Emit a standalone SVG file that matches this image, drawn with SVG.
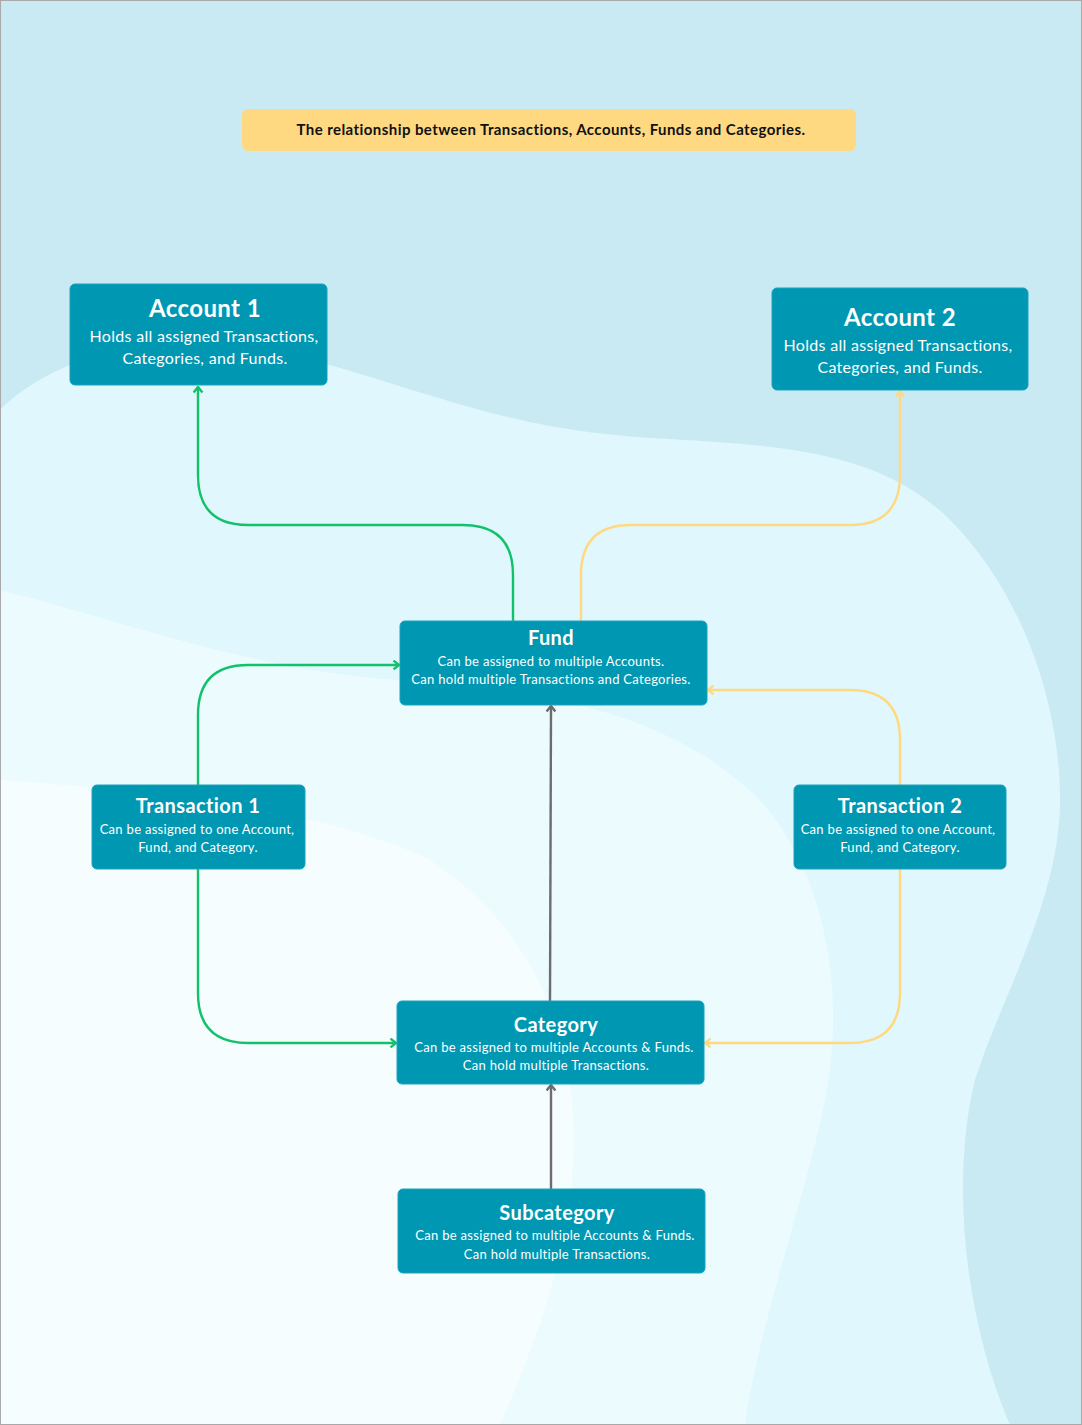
<svg xmlns="http://www.w3.org/2000/svg" width="1082" height="1425" viewBox="0 0 1082 1425">
<defs>
<style>
.node{fill:#0097b2;stroke:#1aa3bb;stroke-width:1}
.t{font-family:Lato,"Liberation Sans",sans-serif;fill:#ffffff;text-anchor:middle}
.h1{font-size:24px;font-weight:bold;letter-spacing:0.4px}
.h2{font-size:20px;font-weight:bold;letter-spacing:0.4px}
.s1{font-size:16px;letter-spacing:0.3px}
.s2{font-size:13px;letter-spacing:0.3px}
.c{fill:none;stroke-width:2.4}
.g{stroke:#12c26a}
.y{stroke:#ffd880}
.k{stroke:#6d6d6d}
</style>
<marker id="ag" viewBox="0 0 10 10" refX="9" refY="5" markerWidth="11" markerHeight="11" markerUnits="userSpaceOnUse" orient="auto"><path d="M4,1 L9,5 L4,9" fill="none" stroke="#12c26a" stroke-width="2.2"/></marker>
<marker id="ay" viewBox="0 0 10 10" refX="9" refY="5" markerWidth="11" markerHeight="11" markerUnits="userSpaceOnUse" orient="auto"><path d="M4,1 L9,5 L4,9" fill="none" stroke="#ffd880" stroke-width="2.2"/></marker>
<marker id="ak" viewBox="0 0 10 10" refX="9" refY="5" markerWidth="11" markerHeight="11" markerUnits="userSpaceOnUse" orient="auto"><path d="M4,1 L9,5 L4,9" fill="none" stroke="#6d6d6d" stroke-width="2.2"/></marker>
</defs>
<g id="background">
<rect x="0" y="0" width="1082" height="1425" fill="#c9eaf3"/>
<path d="M0,410 C60,350 180,320 330,365 C450,400 520,430 650,438 C780,445 880,450 950,520 C1020,590 1060,700 1060,800 C1060,900 1000,1000 975,1080 C950,1180 965,1320 1010,1425 L0,1425 Z" fill="#e0f7fd"/>
<path d="M0,590 C120,620 250,670 400,680 C560,690 680,720 760,800 C830,880 845,1000 825,1100 C805,1200 760,1320 745,1425 L0,1425 Z" fill="#ebfbfe"/>
<path d="M0,780 C150,790 330,810 430,860 C520,920 560,1000 572,1100 C582,1220 545,1320 500,1425 L0,1425 Z" fill="#f5fdfe"/>
<rect x="0.5" y="0.5" width="1081" height="1424" fill="none" stroke="#a9a9a9" stroke-width="1"/>
</g>
<g id="connectors">
<path class="c g" d="M513,621 L513,575 Q513,525 463,525 L248,525 Q198,525 198,475 L198,387" marker-end="url(#ag)"/>
<path class="c g" d="M198,785 L198,715 Q198,665 248,665 L399,665" marker-end="url(#ag)"/>
<path class="c g" d="M198,869 L198,993 Q198,1043 248,1043 L396,1043" marker-end="url(#ag)"/>
<path class="c y" d="M581,621 L581,575 Q581,525 631,525 L850,525 Q900,525 900,475 L900,391" marker-end="url(#ay)"/>
<path class="c y" d="M900,785 L900,740 Q900,690 850,690 L708,690" marker-end="url(#ay)"/>
<path class="c y" d="M900,869 L900,993 Q900,1043 850,1043 L705,1043" marker-end="url(#ay)"/>
<path class="c k" d="M550,1001 L551,706" marker-end="url(#ak)"/>
<path class="c k" d="M551,1189 L551,1085" marker-end="url(#ak)"/>
</g>
<g id="title">
<rect x="242" y="109" width="614" height="42" rx="6" fill="#ffd982"/>
<text x="551" y="135" font-family="Lato,'Liberation Sans',sans-serif" font-size="15" font-weight="bold" letter-spacing="0.43" fill="#111" text-anchor="middle">The relationship between Transactions, Accounts, Funds and Categories.</text>
</g>
<g id="account1">
<rect class="node" x="70" y="284" width="257" height="101" rx="5"/>
<text class="t h1" x="205" y="317">Account 1</text>
<text class="t s1" x="204" y="342">Holds all assigned Transactions,</text>
<text class="t s1" x="205" y="364">Categories, and Funds.</text>
</g>
<g id="account2">
<rect class="node" x="772" y="288" width="256" height="102" rx="5"/>
<text class="t h1" x="900" y="326">Account 2</text>
<text class="t s1" x="898" y="351">Holds all assigned Transactions,</text>
<text class="t s1" x="900" y="373">Categories, and Funds.</text>
</g>
<g id="fund">
<rect class="node" x="400" y="621" width="307" height="84" rx="5"/>
<text class="t h2" x="551" y="645">Fund</text>
<text class="t s2" x="551" y="666">Can be assigned to multiple Accounts.</text>
<text class="t s2" x="551" y="684">Can hold multiple Transactions and Categories.</text>
</g>
<g id="transaction1">
<rect class="node" x="92" y="785" width="213" height="84" rx="5"/>
<text class="t h2" x="198" y="813">Transaction 1</text>
<text class="t s2" x="197" y="834">Can be assigned to one Account,</text>
<text class="t s2" x="198" y="852">Fund, and Category.</text>
</g>
<g id="transaction2">
<rect class="node" x="794" y="785" width="212" height="84" rx="5"/>
<text class="t h2" x="900" y="813">Transaction 2</text>
<text class="t s2" x="898" y="834">Can be assigned to one Account,</text>
<text class="t s2" x="900" y="852">Fund, and Category.</text>
</g>
<g id="category">
<rect class="node" x="397" y="1001" width="307" height="83" rx="5"/>
<text class="t h2" x="556" y="1032">Category</text>
<text class="t s2" x="554" y="1052">Can be assigned to multiple Accounts &amp; Funds.</text>
<text class="t s2" x="556" y="1070">Can hold multiple Transactions.</text>
</g>
<g id="subcategory">
<rect class="node" x="398" y="1189" width="307" height="84" rx="5"/>
<text class="t h2" x="557" y="1220">Subcategory</text>
<text class="t s2" x="555" y="1240">Can be assigned to multiple Accounts &amp; Funds.</text>
<text class="t s2" x="557" y="1259">Can hold multiple Transactions.</text>
</g>
</svg>
